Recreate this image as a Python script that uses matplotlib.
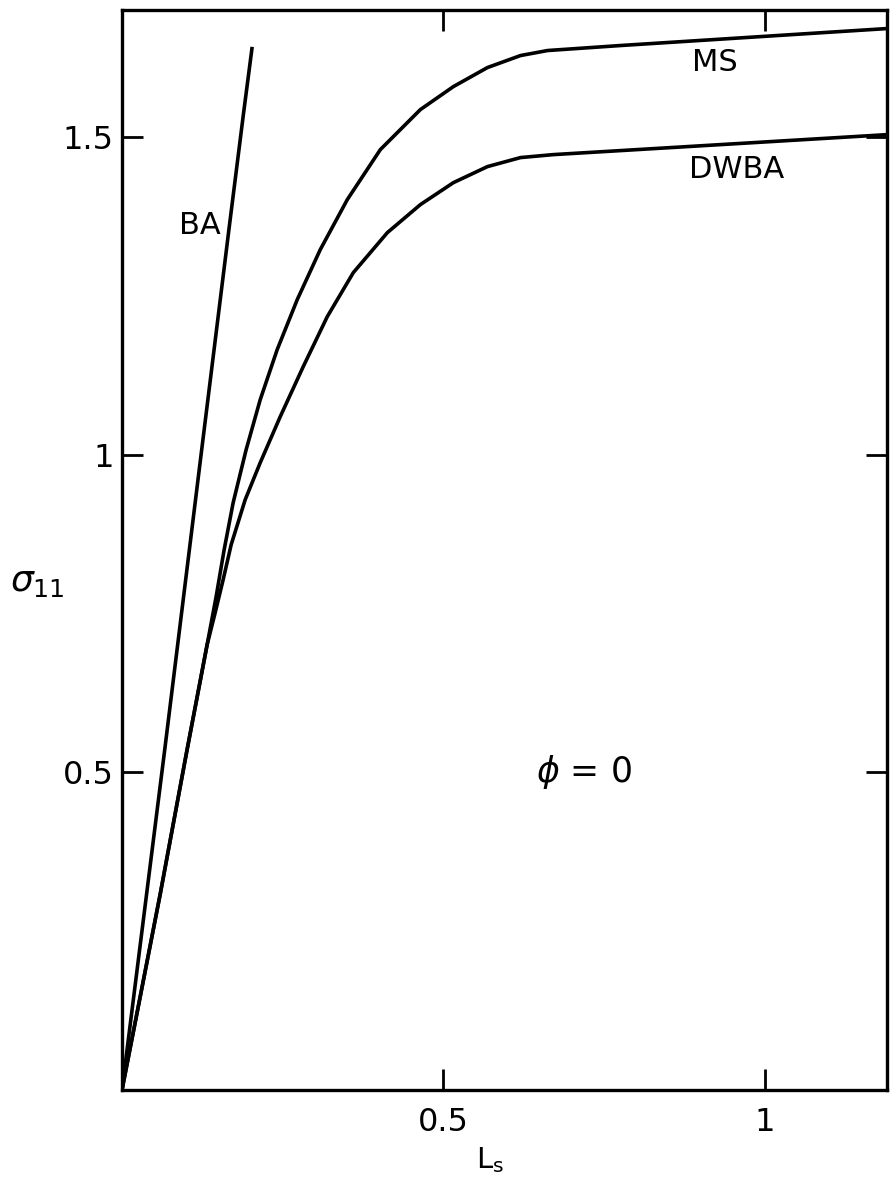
import matplotlib
matplotlib.use("Agg")
import matplotlib.pyplot as plt

# Born approximation
ba_x = [0.0, 0.067, 0.123, 0.167, 0.189, 0.2025]
ba_y = [0.0, 0.540, 1.000, 1.360, 1.537, 1.642]

# multiple scattering
ms_x = [0.0, 0.0592, 0.1012, 0.1324, 0.1464, 0.1589, 0.1729, 0.1931,
        0.2150, 0.2414, 0.2726, 0.3084, 0.3505, 0.4019, 0.4642, 0.5156,
        0.5685, 0.6199, 0.6620, 0.7757, 1.1916]
ms_y = [0.0, 0.3071, 0.5354, 0.7008, 0.7764, 0.8504, 0.9244, 1.0079,
        1.0866, 1.1654, 1.2441, 1.3228, 1.4016, 1.4803, 1.5433, 1.5795,
        1.6094, 1.6283, 1.6362, 1.6441, 1.6709]

# distorted wave Born approximation
dw_x = [0.0, 0.0592, 0.1012, 0.1324, 0.1449, 0.1573, 0.1698, 0.1916,
        0.2150, 0.2461, 0.2819, 0.3193, 0.3598, 0.4128, 0.4642, 0.5156,
        0.5685, 0.6199, 0.6713, 0.7757, 1.1916]
dw_y = [0.0, 0.3071, 0.5354, 0.7008, 0.7512, 0.8031, 0.8583, 0.9291,
        0.9874, 1.0598, 1.1386, 1.2173, 1.2866, 1.3496, 1.3937, 1.4283,
        1.4535, 1.4677, 1.4724, 1.4787, 1.5039]

x_ticks = [0.5, 1.0]
x_labels = ["0.5", "1"]
y_ticks = [0.5, 1.0, 1.5]
y_labels = ["0.5", "1", "1.5"]

#------------------------------------------------------------------------------#

plt.rcParams["font.family"] = ["DejaVu Sans"]

fig = plt.figure(figsize=(8.92, 11.83), dpi=100)
ax = fig.add_axes([122/892, 1 - 1090/1183, 765/892, 1080/1183])

lw = 2.6
for xs, ys in [(ba_x, ba_y), (ms_x, ms_y), (dw_x, dw_y)]:
    ax.plot(xs, ys, color="k", lw=lw, solid_joinstyle="round",
            solid_capstyle="butt")

ax.set_xlim(0, 1.19)
ax.set_ylim(0, 1.70)

ax.set_xticks(x_ticks, x_labels)
ax.set_yticks(y_ticks, y_labels)
ax.tick_params(direction="in", length=15, width=2, labelsize=23,
               top=True, right=True)
ax.tick_params(axis="x", pad=12)
ax.tick_params(axis="y", pad=6)

for spine in ax.spines.values():
    spine.set_linewidth(2.4)

ax.set_xlabel(r"L$_{\rm s}$", fontsize=21, va="center")
ax.xaxis.set_label_coords(0.481, -0.065)
ax.set_ylabel(r"$\sigma_{11}$", fontsize=26, rotation=0, ha="center", va="center")
ax.yaxis.set_label_coords(-0.11, 0.470)

ax.text(0.1215, 1.361, "BA", fontsize=22, ha="center", va="center")
ax.text(0.922, 1.617, "MS", fontsize=22, ha="center", va="center")
ax.text(0.956, 1.449, "DWBA", fontsize=22, ha="center", va="center")
ax.text(0.718, 0.501, r"$\phi$ = 0", fontsize=25, ha="center", va="center")

fig.savefig("out.png", dpi=100)
